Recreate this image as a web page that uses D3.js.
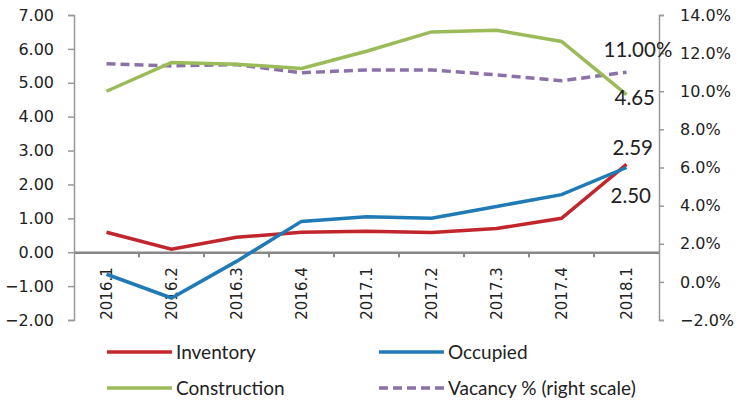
<!DOCTYPE html>
<html>
<head>
<meta charset="utf-8">
<script src="https://cdn.jsdelivr.net/npm/d3@7"></script>
<style>
  body { margin: 0; background: #fff; }
  svg text { fill: #222; }
  .axis text { font-family: "DejaVu Sans", Verdana, sans-serif; }
  .lbl { font-family: Lato, "Open Sans", sans-serif; }
</style>
</head>
<body>
<svg id="chart"></svg>
<script>
const quarters = ["2016.1", "2016.2", "2016.3", "2016.4", "2017.1", "2017.2", "2017.3", "2017.4", "2018.1"];
const inventory = [0.59, 0.09, 0.44, 0.59, 0.62, 0.58, 0.70, 1.00, 2.59];
const occupied = [-0.65, -1.35, -0.27, 0.91, 1.05, 1.00, 1.35, 1.70, 2.50];
const construction = [4.75, 5.60, 5.55, 5.42, 5.93, 6.50, 6.55, 6.22, 4.65];
const vacancy = [11.44, 11.33, 11.40, 10.97, 11.12, 11.12, 10.86, 10.55, 11.00];
const leftTicks = [-2, -1, 0, 1, 2, 3, 4, 5, 6, 7];
const rightTicks = [-2, 0, 2, 4, 6, 8, 10, 12, 14];

const W = 746, H = 404;
const margin = { top: 15, right: 87, bottom: 84, left: 74 };
const width = W - margin.left - margin.right;
const height = H - margin.top - margin.bottom;

const svg = d3.select("#chart").attr("width", W).attr("height", H);
const chart = svg.append("g").attr("transform", `translate(${margin.left},${margin.top})`);

const x = d3.scaleBand().domain(quarters).range([0, width]);
const y = d3.scaleLinear().domain([-2, 7]).range([height, 0]);
const y2 = d3.scaleLinear().domain([-2, 14]).range([height, 0]);
const cx = (d, i) => x(quarters[i]) + x.bandwidth() / 2;

// left axis
const left = chart.append("g").attr("class", "axis")
  .call(d3.axisLeft(y).tickValues(leftTicks).tickFormat(d3.format(".2f")).tickSize(6).tickPadding(14));
left.selectAll("text").style("font-size", "16px");

// right axis
const right = chart.append("g").attr("class", "axis")
  .attr("transform", `translate(${width},0)`)
  .call(d3.axisRight(y2).tickValues(rightTicks).tickFormat(d => d3.format(".1f")(d) + "%").tickSize(5).tickPadding(16));
right.selectAll("text").style("font-size", "16px");

[left, right].forEach(a => {
  a.select(".domain").attr("stroke", "#999").attr("stroke-width", 1.5);
  a.selectAll(".tick line").attr("stroke", "#999").attr("stroke-width", 1.5);
});

// category axis at zero
const bottom = chart.append("g").attr("class", "axis")
  .attr("transform", `translate(0,${y(0)})`)
  .call(d3.axisBottom(x).tickSize(0).tickPadding(0));
bottom.select(".domain").attr("stroke", "#888").attr("stroke-width", 2.5);
bottom.selectAll(".tick text")
  .attr("transform", "rotate(-90)")
  .attr("text-anchor", "end")
  .attr("x", -15)
  .attr("y", 0)
  .attr("dy", "0.35em")
  .style("font-size", "15px");
chart.append("g")
  .selectAll("line")
  .data(quarters.slice(1))
  .join("line")
  .attr("x1", d => x(d))
  .attr("x2", d => x(d))
  .attr("y1", y(0))
  .attr("y2", y(0) + 5)
  .attr("stroke", "#888")
  .attr("stroke-width", 2);

const series = [
  { name: "Inventory", values: inventory, scale: y, color: "#c0262b", dash: null },
  { name: "Occupied", values: occupied, scale: y, color: "#1f7ab5", dash: null },
  { name: "Construction", values: construction, scale: y, color: "#9bbb59", dash: null },
  { name: "Vacancy % (right scale)", values: vacancy, scale: y2, color: "#8a72a8", dash: "9,5" },
];

const drawOrder = [series[3], series[2], series[0], series[1]];
drawOrder.forEach(s => {
  const line = d3.line().x(cx).y(d => s.scale(d));
  chart.append("path")
    .datum(s.values)
    .attr("d", line)
    .attr("fill", "none")
    .attr("stroke", s.color)
    .attr("stroke-width", 3.5)
    .attr("stroke-dasharray", s.dash);
});

// end labels
const last = quarters.length - 1;
const endLabels = [
  { text: d3.format(".2f")(vacancy[last]) + "%", px: cx(0, last), py: y2(vacancy[last]), dx: -23, dy: -22 },
  { text: d3.format(".2f")(construction[last]), px: cx(0, last), py: y(construction[last]), dx: -12, dy: 3 },
  { text: d3.format(".2f")(inventory[last]), px: cx(0, last), py: y(inventory[last]), dx: -14, dy: -17 },
  { text: d3.format(".2f")(occupied[last]), px: cx(0, last), py: y(occupied[last]), dx: -16, dy: 28 },
];
chart.append("g")
  .selectAll("text")
  .data(endLabels)
  .join("text")
  .attr("class", "lbl")
  .attr("x", d => d.px + d.dx)
  .attr("y", d => d.py + d.dy)
  .attr("dy", "0.35em")
  .style("font-size", "20.5px")
  .text(d => d.text);

// legend
const legendPos = [
  { x: 107, y: 352 }, { x: 379, y: 352 },
  { x: 107, y: 388 }, { x: 379, y: 388 },
];
const legend = svg.append("g")
  .selectAll("g")
  .data(series)
  .join("g")
  .attr("transform", (d, i) => `translate(${legendPos[i].x},${legendPos[i].y})`);
legend.append("line")
  .attr("x1", 0).attr("x2", 65)
  .attr("stroke", d => d.color)
  .attr("stroke-width", 3.5)
  .attr("stroke-dasharray", d => d.dash);
legend.append("text")
  .attr("class", "lbl")
  .attr("x", 69)
  .attr("dy", "0.35em")
  .style("font-size", "19px")
  .text(d => d.name);
</script>
</body>
</html>
